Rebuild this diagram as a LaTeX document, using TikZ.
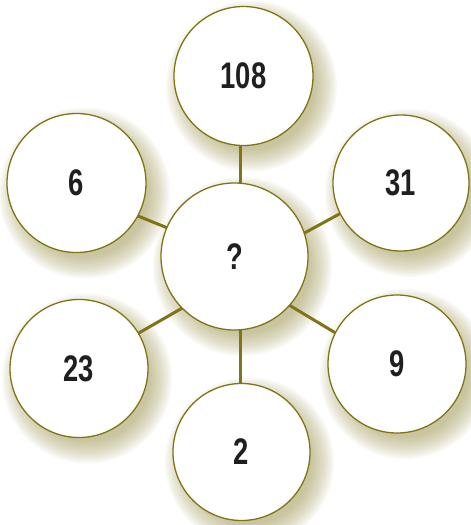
\documentclass[tikz,border=0pt]{standalone}
\usepackage{fontspec}
\setmainfont{Liberation Sans}[FakeStretch=0.74]
\definecolor{olv}{RGB}{128,116,20}
\definecolor{shd}{RGB}{150,142,70}
\pgfdeclarelayer{shadowlayer}
\pgfdeclarelayer{linelayer}
\pgfsetlayers{shadowlayer,linelayer,main}
\begin{document}
\begin{tikzpicture}[x=1pt,y=-1pt,
  ball/.style={circle, draw=olv, line width=1.3pt, fill=white, inner sep=0pt,
    font=\fontsize{37}{40}\selectfont\bfseries, text={black!88}},
  link/.style={draw=olv, line width=3pt}]
\useasboundingbox (0,0) rectangle (471,525);
% circles
\node[ball, minimum size=147pt] (c) at (234.5,256.5) {?};
\node[ball, minimum size=139pt] (t) at (243.5,76) {108};
\node[ball, minimum size=136pt] (rt) at (401,183) {31};
\node[ball, minimum size=139pt] (lt) at (76.5,183) {6};
\node[ball, minimum size=138pt] (lb) at (79,368.5) {23};
\node[ball, minimum size=138pt] (rb) at (397,364) {9};
\node[ball, minimum size=137pt] (b) at (241.5,452) {2};
% soft shadows
\begin{pgfonlayer}{shadowlayer}
\foreach \n/\r in {c/73.5, t/69.5, rt/68, lt/69.5, lb/69, rb/69, b/68.5}{
  \foreach \k in {0,...,11}{
    \fill[shd, fill opacity=0.06] ([shift={(8,10)}]\n.center) circle[radius={(\r+16-2*\k)*1pt}];
  }
}
\end{pgfonlayer}
% connectors
\begin{pgfonlayer}{linelayer}
\draw[link] ([shift={(6.2,0)}]c.center) -- ([shift={(-2.8,0)}]t.center);
\draw[link] ([shift={(6.2,0)}]c.center) -- ([shift={(-0.8,0)}]b.center);
\draw[link] ([shift={(0,-1.4)}]c.center) -- ([shift={(0,8.1)}]lt.center);
\draw[link] ([shift={(0,21.5)}]c.center) -- ([shift={(0,-1.1)}]lb.center);
\draw[link] ([shift={(0,14.6)}]c.center) -- ([shift={(0,-2.6)}]rt.center);
\draw[link] ([shift={(0,15.8)}]c.center) -- ([shift={(0,5.8)}]rb.center);
\end{pgfonlayer}
\end{tikzpicture}
\end{document}
